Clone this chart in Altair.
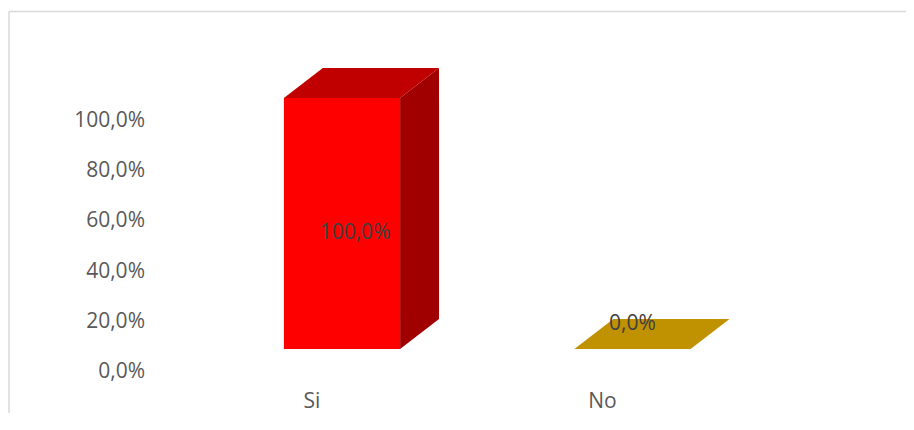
import altair as alt
import pandas as pd

# ---- data ----
categories = ["Si", "No"]
values = [100.0, 0.0]
front_colors = ["#FF0000", "#C09100"]
top_colors = ["#C00000", "#C09100"]
side_colors = ["#A00000", "#8C6A00"]
y_ticks = [0, 20, 40, 60, 80, 100]
title_text = "Figura N° 9 4: Pregunta 9"

# ---- 3D box styling (in data units) ----
HALF = 0.2    # half width of a bar front face (category units)
DX = 0.134    # depth to the right (category units)
DY = 12.0     # depth upward (percentage units)
FS = 21       # label font size

W, H = 898, 405
PX_X, PX_Y = 290.5, 2.51
x0 = -334 / PX_X
y0 = -(H - 341) / PX_Y
xs = alt.Scale(domain=[x0, x0 + W / PX_X], nice=False, zero=False)
ys = alt.Scale(domain=[y0, y0 + H / PX_Y], nice=False, zero=False)

front_rows, side_rows, top_rows, bars = [], [], [], []
for i, (c, v) in enumerate(zip(categories, values)):
    bars.append({"cat": c, "index": i, "value": v})
    front_rows.append({"cat": c, "x": i - HALF, "x2": i + HALF, "y0": 0.0, "y1": v,
                       "color": front_colors[i]})
    side_rows += [
        {"cat": c, "x": i + HALF, "top": v, "bot": 0.0, "color": side_colors[i]},
        {"cat": c, "x": i + HALF + DX, "top": v + DY, "bot": DY, "color": side_colors[i]},
    ]
    top_rows += [
        {"cat": c, "x": i - HALF, "top": v, "bot": v, "color": top_colors[i]},
        {"cat": c, "x": i - HALF + DX, "top": v + DY, "bot": v, "color": top_colors[i]},
        {"cat": c, "x": i + HALF, "top": v + DY, "bot": v, "color": top_colors[i]},
        {"cat": c, "x": i + HALF + DX, "top": v + DY, "bot": v + DY, "color": top_colors[i]},
    ]

front_df = pd.DataFrame(front_rows)
side_df = pd.DataFrame(side_rows)
top_df = pd.DataFrame(top_rows)
bars_df = pd.DataFrame(bars)
ticks_df = pd.DataFrame({"tick": y_ticks})
one = pd.DataFrame({"k": [0]})

front = alt.Chart(front_df).mark_rect().encode(
    x=alt.X("x:Q", scale=xs, axis=None),
    x2="x2:Q",
    y=alt.Y("y0:Q", scale=ys, axis=None),
    y2="y1:Q",
    color=alt.Color("color:N", scale=None),
)

side = alt.Chart(side_df).mark_area(interpolate="linear").encode(
    x=alt.X("x:Q", scale=xs, axis=None),
    y=alt.Y("top:Q", scale=ys, axis=None),
    y2="bot:Q",
    color=alt.Color("color:N", scale=None),
    detail="cat:N",
)

top = alt.Chart(top_df).mark_area(interpolate="linear").encode(
    x=alt.X("x:Q", scale=xs, axis=None),
    y=alt.Y("top:Q", scale=ys, axis=None),
    y2="bot:Q",
    color=alt.Color("color:N", scale=None),
    detail="cat:N",
)

# value-axis labels (drawn on the back wall, hence shifted below the bar floor)
axis_labels = alt.Chart(ticks_df).transform_calculate(
    lbl="replace(format(datum.tick / 100, '.1%'), '.', ',')"
).mark_text(
    font="Open Sans", fontSize=FS, color="#595959", align="right",
    baseline="middle", dy=23,
).encode(
    x=alt.value(137),
    y=alt.Y("tick:Q", scale=ys, axis=None),
    text="lbl:N",
)

data_labels = alt.Chart(bars_df).transform_calculate(
    lbl="replace(format(datum.value / 100, '.1%'), '.', ',')",
    lx="datum.index + datum.value * 0.00045",
    ly="max(datum.value * 0.44, 7.6)",
).mark_text(font="Open Sans", fontSize=FS, color="#404040", baseline="alphabetic").encode(
    x=alt.X("lx:Q", scale=xs, axis=None),
    y=alt.Y("ly:Q", scale=ys, axis=None),
    text="lbl:N",
)

cat_labels = alt.Chart(bars_df).mark_text(
    font="Open Sans", fontSize=FS, color="#595959", baseline="alphabetic", dx=-30
).encode(
    x=alt.X("index:Q", scale=xs, axis=None),
    y=alt.value(400),
    text="cat:N",
)

border_top = alt.Chart(one).mark_rule(color="#D9D9D9", strokeWidth=1.5).encode(
    x=alt.value(1), x2=alt.value(W), y=alt.value(3.5)
)
border_left = alt.Chart(one).mark_rule(color="#D9D9D9", strokeWidth=1.5).encode(
    x=alt.value(1), y=alt.value(3.5), y2=alt.value(H)
)

# the caption sits above the visible page area in the reference (cut off)
title = alt.Chart(one).mark_text(
    font="Liberation Serif", fontSize=26, fontWeight="bold", color="#000000",
    align="left", baseline="alphabetic",
).encode(x=alt.value(-8), y=alt.value(-9), text=alt.value(title_text))

chart = alt.layer(
    border_top, border_left, front, side, top, axis_labels, data_labels, cat_labels, title
).properties(
    width=W, height=H,
    autosize=alt.AutoSizeParams(type="none"),
    padding=0,
).configure_view(stroke=None)

chart.save("out.html", embed_options={"renderer": "svg", "actions": False})
